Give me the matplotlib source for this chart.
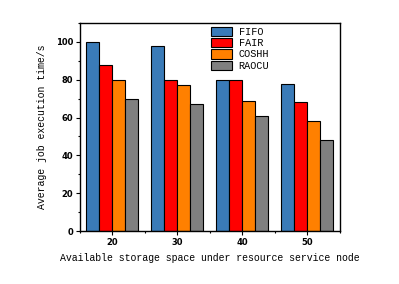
import matplotlib
matplotlib.use("Agg")
import matplotlib.pyplot as plt
import numpy as np
from matplotlib.ticker import MultipleLocator

categories = ["20", "30", "40", "50"]
series_names = ["FIFO", "FAIR", "COSHH", "RAOCU"]
fifo = [100, 98, 80, 78]
fair = [88, 80, 80, 68]
coshh = [80, 77, 69, 58]
raocu = [70, 67, 61, 48]
colors = ["#3a7bb8", "#ff0000", "#ff8000", "#808080"]

fig = plt.figure(figsize=(3.99, 2.84), dpi=100)
ax = fig.add_axes([0.2005, 0.1866, 0.6515, 0.7324])

x = np.arange(len(categories))
w = 0.2
for i, (vals, name, c) in enumerate(zip([fifo, fair, coshh, raocu], series_names, colors)):
    ax.bar(x + (i - 1.5) * w, vals, w, color=c, edgecolor="black", linewidth=0.8, label=name)

ax.set_xlim(-0.5, 3.5)
ax.set_ylim(0, 110)
ax.set_xticks(x)
ax.set_xticklabels(categories)
ax.xaxis.set_minor_locator(MultipleLocator(0.5))
ax.yaxis.set_major_locator(MultipleLocator(20))
ax.yaxis.set_minor_locator(MultipleLocator(10))
ax.tick_params(axis="both", which="major", direction="out", length=3, width=0.8, labelsize=6, pad=2)
ax.tick_params(axis="both", which="minor", direction="out", length=1.5, width=0.8)
for lab in ax.get_xticklabels() + ax.get_yticklabels():
    lab.set_fontweight("bold")
for s in ax.spines.values():
    s.set_linewidth(1.0)

ax.set_ylabel("Average job execution time/s", family="Liberation Mono", fontsize=7.1, labelpad=6)
ax.set_xlabel("Available storage space under resource service node", family="Liberation Mono", fontsize=7.1, labelpad=4)

leg = ax.legend(loc="upper left", bbox_to_anchor=(0.485, 1.005), frameon=False,
                prop={"family": "Liberation Mono", "size": 7.3},
                handlelength=2.1, handleheight=1.0, handletextpad=0.6, labelspacing=0.12, borderaxespad=0.1)

fig.savefig("out.png", dpi=100)
